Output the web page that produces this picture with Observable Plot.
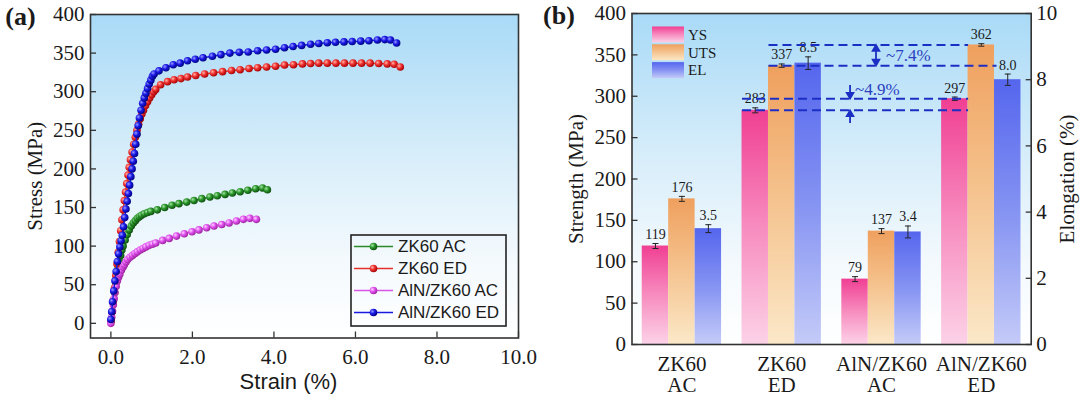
<!DOCTYPE html>
<html><head><meta charset="utf-8">
<script src="https://cdn.jsdelivr.net/npm/d3@7"></script>
<script src="https://cdn.jsdelivr.net/npm/@observablehq/plot@0.6"></script>
<style>
body{margin:0;background:#fff;}
#wrap{position:relative;width:1080px;height:396px;overflow:hidden;background:#fff;}
#pa{position:absolute;left:0;top:0;}
#pb{position:absolute;left:540px;top:0;}
#wrap svg text{font-family:'Liberation Serif','Times New Roman',serif;}
#wrap svg text.sans, #wrap svg g.sans text{font-family:'Liberation Sans',Arial,sans-serif;}
</style></head><body>
<svg width="0" height="0" style="position:absolute">
<defs>
<linearGradient id="bgGrad" x1="0" y1="0" x2="0" y2="1">
<stop offset="0" stop-color="#a9daf7"/><stop offset="0.45" stop-color="#d9eefa"/><stop offset="0.75" stop-color="#f3f9fd"/><stop offset="1" stop-color="#ffffff"/>
</linearGradient>
<linearGradient id="gYS" x1="0" y1="0" x2="0" y2="1">
<stop offset="0" stop-color="#f03f93"/><stop offset="0.5" stop-color="#f78cbf"/><stop offset="1" stop-color="#fcd2e7"/>
</linearGradient>
<linearGradient id="gUTS" x1="0" y1="0" x2="0" y2="1">
<stop offset="0" stop-color="#efa05e"/><stop offset="0.5" stop-color="#f5c490"/><stop offset="1" stop-color="#fbe8c8"/>
</linearGradient>
<linearGradient id="gEL" x1="0" y1="0" x2="0" y2="1">
<stop offset="0" stop-color="#5566ee"/><stop offset="0.5" stop-color="#8593f2"/><stop offset="1" stop-color="#c4cbf8"/>
</linearGradient>
<radialGradient id="sGreen" cx="0.35" cy="0.35" r="0.7"><stop offset="0" stop-color="#a8e4a8"/><stop offset="0.45" stop-color="#2a962a"/><stop offset="1" stop-color="#0b4a0b"/></radialGradient>
<radialGradient id="sRed" cx="0.35" cy="0.35" r="0.7"><stop offset="0" stop-color="#ffb4a8"/><stop offset="0.45" stop-color="#ee3030"/><stop offset="1" stop-color="#a00000"/></radialGradient>
<radialGradient id="sMag" cx="0.35" cy="0.35" r="0.7"><stop offset="0" stop-color="#ffd4ff"/><stop offset="0.45" stop-color="#e052f0"/><stop offset="1" stop-color="#9a209a"/></radialGradient>
<radialGradient id="sBlue" cx="0.35" cy="0.35" r="0.7"><stop offset="0" stop-color="#9a9aff"/><stop offset="0.45" stop-color="#1a1ae8"/><stop offset="1" stop-color="#00007a"/></radialGradient>
</defs>
</svg>
<div id="wrap"><div id="pa"></div><div id="pb"></div></div>
<script>
// ---------------- Data: panel (a) stress-strain curves ----------------
const seriesNames = ["ZK60 AC", "ZK60 ED", "AlN/ZK60 AC", "AlN/ZK60 ED"];

const zk60AcStrain = [0.00,0.03,0.06,0.09,0.12,0.15,0.18,0.21,0.24,0.27,0.30,0.35,0.40,0.45,0.50,0.55,0.60,0.65,0.70,0.75,0.82,0.90,0.98,1.14,1.32,1.50,1.67,1.86,2.04,2.23,2.43,2.61,2.80,2.98,3.17,3.36,3.55,3.72,3.84];
const zk60AcStress = [3,15,28,40,52,62,72,80,88,95,100,108,115,121,126,130,133,136,138,140,142,143.5,145,147,150,153,155,157,159,161.5,163.6,165.3,167,168.8,170.5,172.3,174.4,175.3,173];

const zk60EdStrain = [0.00,0.03,0.06,0.09,0.12,0.15,0.18,0.21,0.24,0.27,0.30,0.33,0.36,0.39,0.42,0.45,0.48,0.52,0.56,0.60,0.64,0.68,0.72,0.76,0.80,0.85,0.90,0.95,1.00,1.05,1.10,1.22,1.39,1.55,1.72,1.88,2.08,2.30,2.52,2.74,2.96,3.17,3.39,3.60,3.82,4.04,4.26,4.48,4.70,4.90,5.10,5.31,5.52,5.73,5.94,6.15,6.36,6.57,6.78,6.95,7.10];
const zk60EdStress = [3,15,30,46,62,77,92,106,120,134,147,159,170,181,192,202,212,222,232,241,250,258,265,271,276,282,287,292,296,300,303,309,313,315.5,317,319,321,323,324.5,326,327.5,328.5,330,331,332,333,334.5,335,336,336.5,337,337,337,337,337,337,337,336.5,336,335.5,332];

const alnAcStrain = [0.00,0.02,0.04,0.06,0.08,0.10,0.13,0.16,0.19,0.22,0.26,0.30,0.33,0.37,0.41,0.47,0.53,0.59,0.65,0.72,0.79,0.86,0.94,1.02,1.10,1.27,1.43,1.61,1.80,1.99,2.16,2.35,2.53,2.72,2.90,3.08,3.25,3.41,3.57];
const alnAcStress = [0,8,16,24,32,40,48,55,60,64,69,73,76,79.5,82.7,85.5,88,90.5,92.6,95,97,99,101,102.5,104,107.4,110,113,116,118.6,121,123.8,126,128,130,132.5,134.7,136,134.7];

const alnEdStrain = [0.00,0.02,0.04,0.07,0.10,0.13,0.16,0.19,0.22,0.25,0.28,0.31,0.34,0.37,0.40,0.43,0.46,0.49,0.52,0.55,0.58,0.61,0.64,0.67,0.70,0.74,0.78,0.82,0.86,0.90,0.94,0.98,1.02,1.06,1.18,1.35,1.53,1.70,1.88,2.07,2.26,2.49,2.70,2.92,3.15,3.37,3.60,3.82,4.04,4.26,4.47,4.68,4.90,5.10,5.31,5.51,5.72,5.92,6.13,6.33,6.54,6.72,6.86,7.01];
const alnEdStress = [5,15,28,42,55,67,80,90,99,107,114,125,137,148,158,168,179,190,200,210,220,232,245,256,266,276,285,292,298,304,310,315,320,323,327,331,335,337,340,342,344,346,348,350,351,351.5,353,354,355,357,358.5,360,361.5,362.5,363.5,364,364.5,365,365.5,366,367,367.5,367,363];

const strainTicks = [0, 2, 4, 6, 8, 10];
const stressTicks = [0, 50, 100, 150, 200, 250, 300, 350, 400];

// ---------------- Data: panel (b) bars ----------------
const groups = ["ZK60\nAC", "ZK60\nED", "AlN/ZK60\nAC", "AlN/ZK60\nED"];
const barSeries = ["YS", "UTS", "EL"];
const ysVals = [119, 283, 79, 297];
const ysErr = [3, 3, 3, 2];
const utsVals = [176, 337, 137, 362];
const utsErr = [3, 2, 3, 1.5];
const elVals = [3.5, 8.5, 3.4, 8.0];
const elErr = [0.12, 0.19, 0.18, 0.17];
const strengthTicks = [0, 50, 100, 150, 200, 250, 300, 350, 400];
const elongTicks = [0, 2, 4, 6, 8, 10];

// ---------------- Styling ----------------
const lineColors = ["#2a8a2a", "#e8302a", "#d855ea", "#1a1ae0"];
const sphereIds = ["sGreen", "sRed", "sMag", "sBlue"];
const barFills = {YS: "url(#gYS)", UTS: "url(#gUTS)", EL: "url(#gEL)"};
const SERIF = "Liberation Serif";
const SANS = "Liberation Sans";
const EL2MPA = 400 / 10; // right axis (0-10 %) mapped onto left axis (0-400 MPa)
const annoBlue = "#1c2fc4";
const ink = "#1a1a1a";

// ================= Panel (a) =================
const curveArrays = [[zk60AcStrain, zk60AcStress],[zk60EdStrain, zk60EdStress],[alnAcStrain, alnAcStress],[alnEdStrain, alnEdStress]];
const curveRows = seriesNames.flatMap((name, k) =>
  curveArrays[k][0].map((s, i) => ({series: name, strain: s, stress: curveArrays[k][1][i]})));

const plotA = Plot.plot({
  width: 540, height: 396,
  marginLeft: 90, marginRight: 22, marginTop: 14, marginBottom: 58.5,
  x: {domain: [-0.5, 10]},
  y: {domain: [-19, 400]},
  style: {color: ink, background: "transparent"},
  marks: [
    Plot.frame({fill: "url(#bgGrad)", stroke: "none"}),
    ...seriesNames.flatMap((name, k) => {
      const rows = curveRows.filter(d => d.series === name);
      return [
        Plot.line(rows, {x: "strain", y: "stress", stroke: lineColors[k], strokeWidth: 1.5}),
        Plot.dot(rows, {x: "strain", y: "stress", r: 3.8, fill: `url(#${sphereIds[k]})`, stroke: "none"})
      ];
    }),
    Plot.axisY({ticks: stressTicks, tickSize: 0, tickPadding: 6, fontSize: 21, fontFamily: SERIF, label: null}),
    Plot.axisY({ticks: stressTicks, tickSize: -6, tickFormat: () => "", label: null, stroke: "#333", strokeWidth: 1.3}),
    Plot.axisX({ticks: strainTicks, tickSize: 0, tickPadding: 11, tickFormat: d3.format(".1f"), fontSize: 21, fontFamily: SERIF, label: null}),
    Plot.axisX({ticks: strainTicks, tickSize: -6, tickFormat: () => "", label: null, stroke: "#333", strokeWidth: 1.3}),
    Plot.frame({stroke: "#333", strokeWidth: 1.6}),
    Plot.text(["Stress (MPa)"], {text: d => d, frameAnchor: "left", dx: -55, rotate: -90, textAnchor: "middle", lineAnchor: "middle", fontSize: 21, fontFamily: SERIF}),
    Plot.text(["Strain (%)"], {text: d => d, frameAnchor: "bottom", dy: 44, dx: -16, textAnchor: "middle", lineAnchor: "middle", fontSize: 22, fontFamily: SANS}),
    Plot.text(["(a)"], {text: d => d, frameAnchor: "top-left", dx: -70, dy: 2, textAnchor: "middle", lineAnchor: "middle", fontSize: 26, fontWeight: "bold", fontFamily: SERIF})
  ]
});
document.getElementById("pa").appendChild(plotA);
// the "Strain (%)" title is sans-serif in the reference
d3.select(plotA).selectAll("text").filter(function() { return this.textContent === "Strain (%)"; }).classed("sans", true);

// legend (a)
{
  const svg = d3.select(plotA);
  const g = svg.append("g").attr("class", "sans").attr("font-size", 17).attr("fill", ink).attr("text-anchor", "start");
  g.append("rect").attr("x", 351).attr("y", 235).attr("width", 155).attr("height", 91)
    .attr("fill", "none").attr("stroke", "#222").attr("stroke-width", 1.6);
  seriesNames.forEach((name, k) => {
    const y = 246.5 + k * 22;
    g.append("line").attr("x1", 354).attr("x2", 393).attr("y1", y).attr("y2", y)
      .attr("stroke", lineColors[k]).attr("stroke-width", 1.5);
    g.append("circle").attr("cx", 373.5).attr("cy", y).attr("r", 3.8).attr("fill", `url(#${sphereIds[k]})`);
    g.append("text").attr("x", 398).attr("y", y).attr("dy", "0.35em").text(name);
  });
}

// ================= Panel (b) =================
const barW = 0.265;
const barVals = {YS: ysVals, UTS: utsVals, EL: elVals.map(v => v * EL2MPA)};
const barErrs = {YS: ysErr, UTS: utsErr, EL: elErr.map(v => v * EL2MPA)};
const barLabels = {YS: ysVals.map(String), UTS: utsVals.map(String), EL: elVals.map(d3.format(".1f"))};
const barRows = groups.flatMap((g, i) => barSeries.map((s, j) => {
  const cx = i + (j - 1) * barW;
  return {group: g, series: s, cx, x1: cx - barW / 2, x2: cx + barW / 2,
          v: barVals[s][i], e: barErrs[s][i], label: barLabels[s][i]};
}));
const bar = (i, s) => barRows.find(d => d.group === groups[i] && d.series === s);

// dashed reference lines comparing ZK60 ED with AlN/ZK60 ED
const dashRows = [
  {y: bar(3, "UTS").v, x1: bar(1, "UTS").x1, x2: bar(3, "UTS").x1},
  {y: bar(1, "UTS").v, x1: bar(1, "UTS").x1, x2: bar(3, "EL").x1 + 0.02},
  {y: bar(3, "YS").v, x1: bar(1, "YS").x1, x2: bar(3, "UTS").x1},
  {y: bar(1, "YS").v, x1: bar(1, "YS").x1, x2: bar(3, "UTS").x1}
];
const pct = d3.format(".1f");
const utsGain = pct((utsVals[3] - utsVals[1]) / utsVals[1] * 100);
const ysGain = pct((ysVals[3] - ysVals[1]) / ysVals[1] * 100);
const utsArrowX = 1.945, ysArrowX = 1.685;
const utsMid = (utsVals[3] + utsVals[1]) / 2;
// arrow shafts and filled heads (up = 0deg, down = 180deg)
const shafts = [
  {x: utsArrowX, y1: utsVals[1] + 4, y2: utsVals[3] - 4},
  {x: ysArrowX, y1: ysVals[3] + 16, y2: ysVals[3] + 4},
  {x: ysArrowX, y1: ysVals[1] - 16, y2: ysVals[1] - 4}
];
const heads = [
  {x: utsArrowX, y: utsVals[3], rot: 0, dy: 4},
  {x: utsArrowX, y: utsVals[1], rot: 180, dy: -4},
  {x: ysArrowX, y: ysVals[3], rot: 180, dy: -4},
  {x: ysArrowX, y: ysVals[1], rot: 0, dy: 4}
];

const plotB = Plot.plot({
  width: 540, height: 396,
  marginLeft: 91.5, marginRight: 49.3, marginTop: 13, marginBottom: 52,
  x: {domain: [-0.5, 3.5]},
  y: {domain: [0, 400]},
  style: {color: ink, background: "transparent"},
  marks: [
    Plot.frame({fill: "url(#bgGrad)", stroke: "none"}),
    ...barSeries.map(s => Plot.rect(barRows.filter(d => d.series === s), {x1: "x1", x2: "x2", y1: 0, y2: "v", fill: barFills[s]})),
    Plot.ruleX(barRows, {x: "cx", y1: d => d.v - d.e, y2: d => d.v + d.e, stroke: "#222", strokeWidth: 1}),
    Plot.link(barRows, {x1: d => d.cx - 0.03, x2: d => d.cx + 0.03, y1: d => d.v + d.e, y2: d => d.v + d.e, stroke: "#222", strokeWidth: 1}),
    Plot.link(barRows, {x1: d => d.cx - 0.03, x2: d => d.cx + 0.03, y1: d => d.v - d.e, y2: d => d.v - d.e, stroke: "#222", strokeWidth: 1}),
    Plot.text(barRows, {x: "cx", y: d => d.v + d.e, text: "label", dy: -9, fontSize: 14, fill: ink, fontFamily: SERIF}),
    Plot.link(dashRows, {x1: "x1", x2: "x2", y1: "y", y2: "y", stroke: annoBlue, strokeWidth: 2, strokeDasharray: "9,5"}),
    Plot.ruleX(shafts, {x: "x", y1: "y1", y2: "y2", stroke: annoBlue, strokeWidth: 1.8}),
    ...heads.map(h => Plot.dot([h], {x: "x", y: "y", symbol: "triangle", r: 3.6, rotate: h.rot, dy: h.dy, fill: annoBlue, stroke: "none"})),
    Plot.text([`~${utsGain}%`], {x: utsArrowX + 0.1, y: utsMid, text: d => d, textAnchor: "start", fontSize: 17, fill: "#2b3fc0", fontFamily: SERIF}),
    Plot.text([`~${ysGain}%`], {x: ysArrowX + 0.05, y: ysVals[3] + 11, text: d => d, textAnchor: "start", fontSize: 17, fill: "#2b3fc0", fontFamily: SERIF}),
    Plot.axisY({ticks: strengthTicks, tickSize: 0, tickPadding: 6, fontSize: 21, fontFamily: SERIF, label: null}),
    Plot.axisY({ticks: strengthTicks, tickSize: -6, tickFormat: () => "", label: null, stroke: "#333", strokeWidth: 1.3}),
    Plot.axisY({anchor: "right", ticks: elongTicks.map(v => v * EL2MPA), tickFormat: d => d / EL2MPA, tickSize: 0, tickPadding: 5, fontSize: 21, fontFamily: SERIF, label: null}),
    Plot.axisY({anchor: "right", ticks: elongTicks.map(v => v * EL2MPA), tickSize: -6, tickFormat: () => "", label: null, stroke: "#333", strokeWidth: 1.3}),
    Plot.axisX({ticks: [0, 1, 2, 3], tickFormat: i => groups[i], tickSize: 0, tickPadding: 11, fontSize: 21, fontFamily: SERIF, lineHeight: 1.03, label: null}),
    Plot.frame({stroke: "#333", strokeWidth: 1.6}),
    Plot.text(["Strength (MPa)"], {text: d => d, frameAnchor: "left", dx: -56, rotate: -90, textAnchor: "middle", lineAnchor: "middle", fontSize: 21, fontFamily: SERIF}),
    Plot.text(["Elongation (%)"], {text: d => d, frameAnchor: "right", dx: 36, rotate: -90, textAnchor: "middle", lineAnchor: "middle", fontSize: 21, fontFamily: SERIF}),
    Plot.text(["(b)"], {text: d => d, frameAnchor: "top-left", dx: -73, dy: 2, textAnchor: "middle", lineAnchor: "middle", fontSize: 26, fontWeight: "bold", fontFamily: SERIF})
  ]
});
document.getElementById("pb").appendChild(plotB);

// legend (b)
{
  const svg = d3.select(plotB);
  const g = svg.append("g").attr("font-size", 15).attr("fill", ink).attr("text-anchor", "start");
  barSeries.forEach((s, k) => {
    const y = 26.5 + k * 17.8;
    g.append("rect").attr("x", 112).attr("y", y).attr("width", 32).attr("height", 16).attr("fill", barFills[s]);
    g.append("text").attr("x", 148).attr("y", y + 8).attr("dy", "0.35em").text(s);
  });
}
</script>
</body></html>
